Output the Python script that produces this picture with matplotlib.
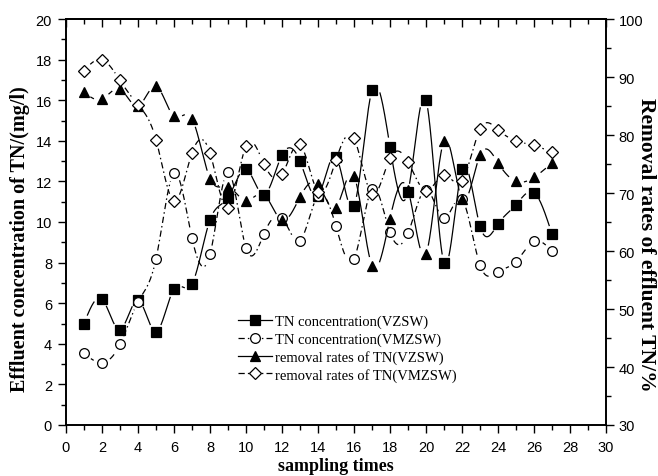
import numpy as np
import matplotlib
matplotlib.use("Agg")
import matplotlib.pyplot as plt
from matplotlib.lines import Line2D
from matplotlib.ticker import MultipleLocator

# ---------------- data ----------------
sampling_times = list(range(1, 28))
tn_vzsw = [5.0, 6.2, 4.7, 6.15, 4.6, 6.7, 6.95, 10.1, 11.2, 12.6, 11.35, 13.3, 13.0, 11.3,
           13.2, 10.8, 16.5, 13.7, 11.5, 16.0, 8.0, 12.6, 9.8, 9.9, 10.85, 11.45, 9.4]
tn_vmzsw = [3.53, 3.07, 3.97, 6.07, 8.18, 12.4, 9.21, 8.4, 12.46, 8.72, 9.42, 10.21, 9.08, 11.3,
            9.79, 8.18, 11.63, 9.49, 9.44, 11.6, 10.18, 11.13, 7.88, 7.55, 8.05, 9.05, 8.56]
rr_vzsw = [87.4, 86.2, 87.9, 85.0, 88.4, 83.2, 82.8, 72.5, 71.1, 68.7, 69.7, 65.3, 69.3, 71.5,
           67.5, 72.9, 57.5, 65.6, 70.5, 59.5, 79.0, 69.0, 76.5, 75.2, 72.0, 72.7, 75.2]
rr_vmzsw = [91.1, 93.0, 89.4, 85.2, 79.2, 68.6, 76.9, 76.9, 67.4, 78.1, 75.0, 73.2, 78.4, 70.2,
            75.7, 79.4, 69.8, 76.0, 75.4, 70.4, 73.1, 72.1, 81.0, 80.9, 79.0, 78.2, 77.0]
labels = ["TN concentration(VZSW)", "TN concentration(VMZSW)",
          "removal rates of TN(VZSW)", "removal rates of TN(VMZSW)"]
xlabel = "sampling times"
ylabel_left = "Effluent concentration of TN/(mg/l)"
ylabel_right = "Removal rates of effluent TN/%"

SERIF = ["Liberation Serif", "DejaVu Serif"]
SANS = ["Liberation Sans", "DejaVu Sans"]
plt.rcParams["font.family"] = SANS


def natural_spline(x, y, xs):
    x = np.asarray(x, float)
    y = np.asarray(y, float)
    n = len(x)
    h = np.diff(x)
    A = np.zeros((n, n))
    b = np.zeros(n)
    A[0, 0] = 1
    A[-1, -1] = 1
    for i in range(1, n - 1):
        A[i, i - 1] = h[i - 1]
        A[i, i] = 2 * (h[i - 1] + h[i])
        A[i, i + 1] = h[i]
        b[i] = 6 * ((y[i + 1] - y[i]) / h[i] - (y[i] - y[i - 1]) / h[i - 1])
    M = np.linalg.solve(A, b)
    idx = np.clip(np.searchsorted(x, xs) - 1, 0, n - 2)
    x0, x1 = x[idx], x[idx + 1]
    hh = x1 - x0
    t0 = x1 - xs
    t1 = xs - x0
    return (M[idx] * t0 ** 3 / (6 * hh) + M[idx + 1] * t1 ** 3 / (6 * hh)
            + (y[idx] / hh - M[idx] * hh / 6) * t0 + (y[idx + 1] / hh - M[idx + 1] * hh / 6) * t1)


W, H = 658, 477
fig = plt.figure(figsize=(W / 100, H / 100), dpi=100)
ax = fig.add_axes([66 / W, 51 / H, 540 / W, 406 / H])
ax2 = ax.twinx()

ax.set_xlim(0, 30)
ax.set_ylim(0, 20)
ax2.set_ylim(30, 100)

DASHDOT = (0, (5, 2.5, 1.2, 2.5))
series = [
    (ax, tn_vzsw, "s", "black", "-", 6.5),
    (ax, tn_vmzsw, "o", "white", DASHDOT, 7),
    (ax2, rr_vzsw, "^", "black", "-", 7.5),
    (ax2, rr_vmzsw, "D", "white", DASHDOT, 6.5),
]

gap = 8.5
xs_dense = np.linspace(1, 27, 1500)
for a, ys, mk, fc, ls, ms in series:
    yd = natural_spline(sampling_times, ys, xs_dense)
    disp = a.transData.transform(np.column_stack([xs_dense, yd]))
    pts = a.transData.transform(np.column_stack([sampling_times, ys]))
    mask = np.zeros(len(xs_dense), bool)
    for px, py in pts:
        mask |= np.hypot(disp[:, 0] - px, disp[:, 1] - py) < gap
    yplot = yd.copy()
    yplot[mask] = np.nan
    a.plot(xs_dense, yplot, color="black", lw=0.9, linestyle=ls, zorder=2)
    a.plot(sampling_times, ys, linestyle="none", marker=mk, ms=ms, mfc=fc,
           mec="black", mew=0.9, zorder=3)

ax.xaxis.set_major_locator(MultipleLocator(2))
ax.xaxis.set_minor_locator(MultipleLocator(1))
ax.yaxis.set_major_locator(MultipleLocator(2))
ax.yaxis.set_minor_locator(MultipleLocator(1))
ax2.yaxis.set_major_locator(MultipleLocator(10))
ax2.yaxis.set_minor_locator(MultipleLocator(5))

ax.tick_params(axis="x", which="both", direction="out", top=False)
ax.tick_params(axis="y", which="both", direction="out", right=False)
ax.tick_params(which="major", length=6, width=1, labelsize=10.5)
ax.tick_params(which="minor", length=3.5, width=1)
ax.tick_params(axis="x", which="major", pad=5)
ax.tick_params(axis="y", which="major", pad=4)
ax2.tick_params(axis="y", which="major", direction="out", length=6, width=1, labelsize=10.5, pad=3)
ax2.tick_params(axis="y", which="minor", direction="out", length=3.5, width=1)

sec = ax.secondary_xaxis("top")
sec.xaxis.set_major_locator(MultipleLocator(2))
sec.xaxis.set_minor_locator(MultipleLocator(1))
sec.tick_params(which="major", direction="in", length=6, width=1, labeltop=False)
sec.tick_params(which="minor", direction="in", length=3.5, width=1)
sec.spines["top"].set_linewidth(1.2)

for sp in ax.spines.values():
    sp.set_linewidth(1.2)
for sp in ax2.spines.values():
    sp.set_linewidth(1.2)

ax.set_xlabel(xlabel, family=SERIF, fontweight="bold", fontsize=13, labelpad=2)
ax.set_ylabel(ylabel_left, family=SERIF, fontweight="bold", fontsize=14.5)
ax.yaxis.set_label_coords((20 - 66) / 540, (426 - 239) / 406)
ax.yaxis.label.set_verticalalignment("center")
ax.yaxis.label.set_horizontalalignment("center")
ax2.set_ylabel(ylabel_right, family=SERIF, fontweight="bold", fontsize=15.5, rotation=270)
ax2.yaxis.set_label_coords((646 - 66) / 540, (426 - 245) / 406)
ax2.yaxis.label.set_verticalalignment("center")
ax2.yaxis.label.set_horizontalalignment("center")

handles = []
for a, ys, mk, fc, ls, ms in series:
    handles.append(Line2D([], [], color="black", lw=0.9, linestyle=ls, marker=mk, ms=ms,
                          mfc=fc, mec="black", mew=0.9))
fig.legend(handles, labels, loc="upper left", bbox_to_anchor=(238 / W, 1 - 316 / H),
           frameon=False, prop={"family": SERIF, "size": 10.5},
           handlelength=2.3, handletextpad=0.25, labelspacing=0.27, borderpad=0,
           borderaxespad=0)

fig.savefig("out.png", dpi=100)
